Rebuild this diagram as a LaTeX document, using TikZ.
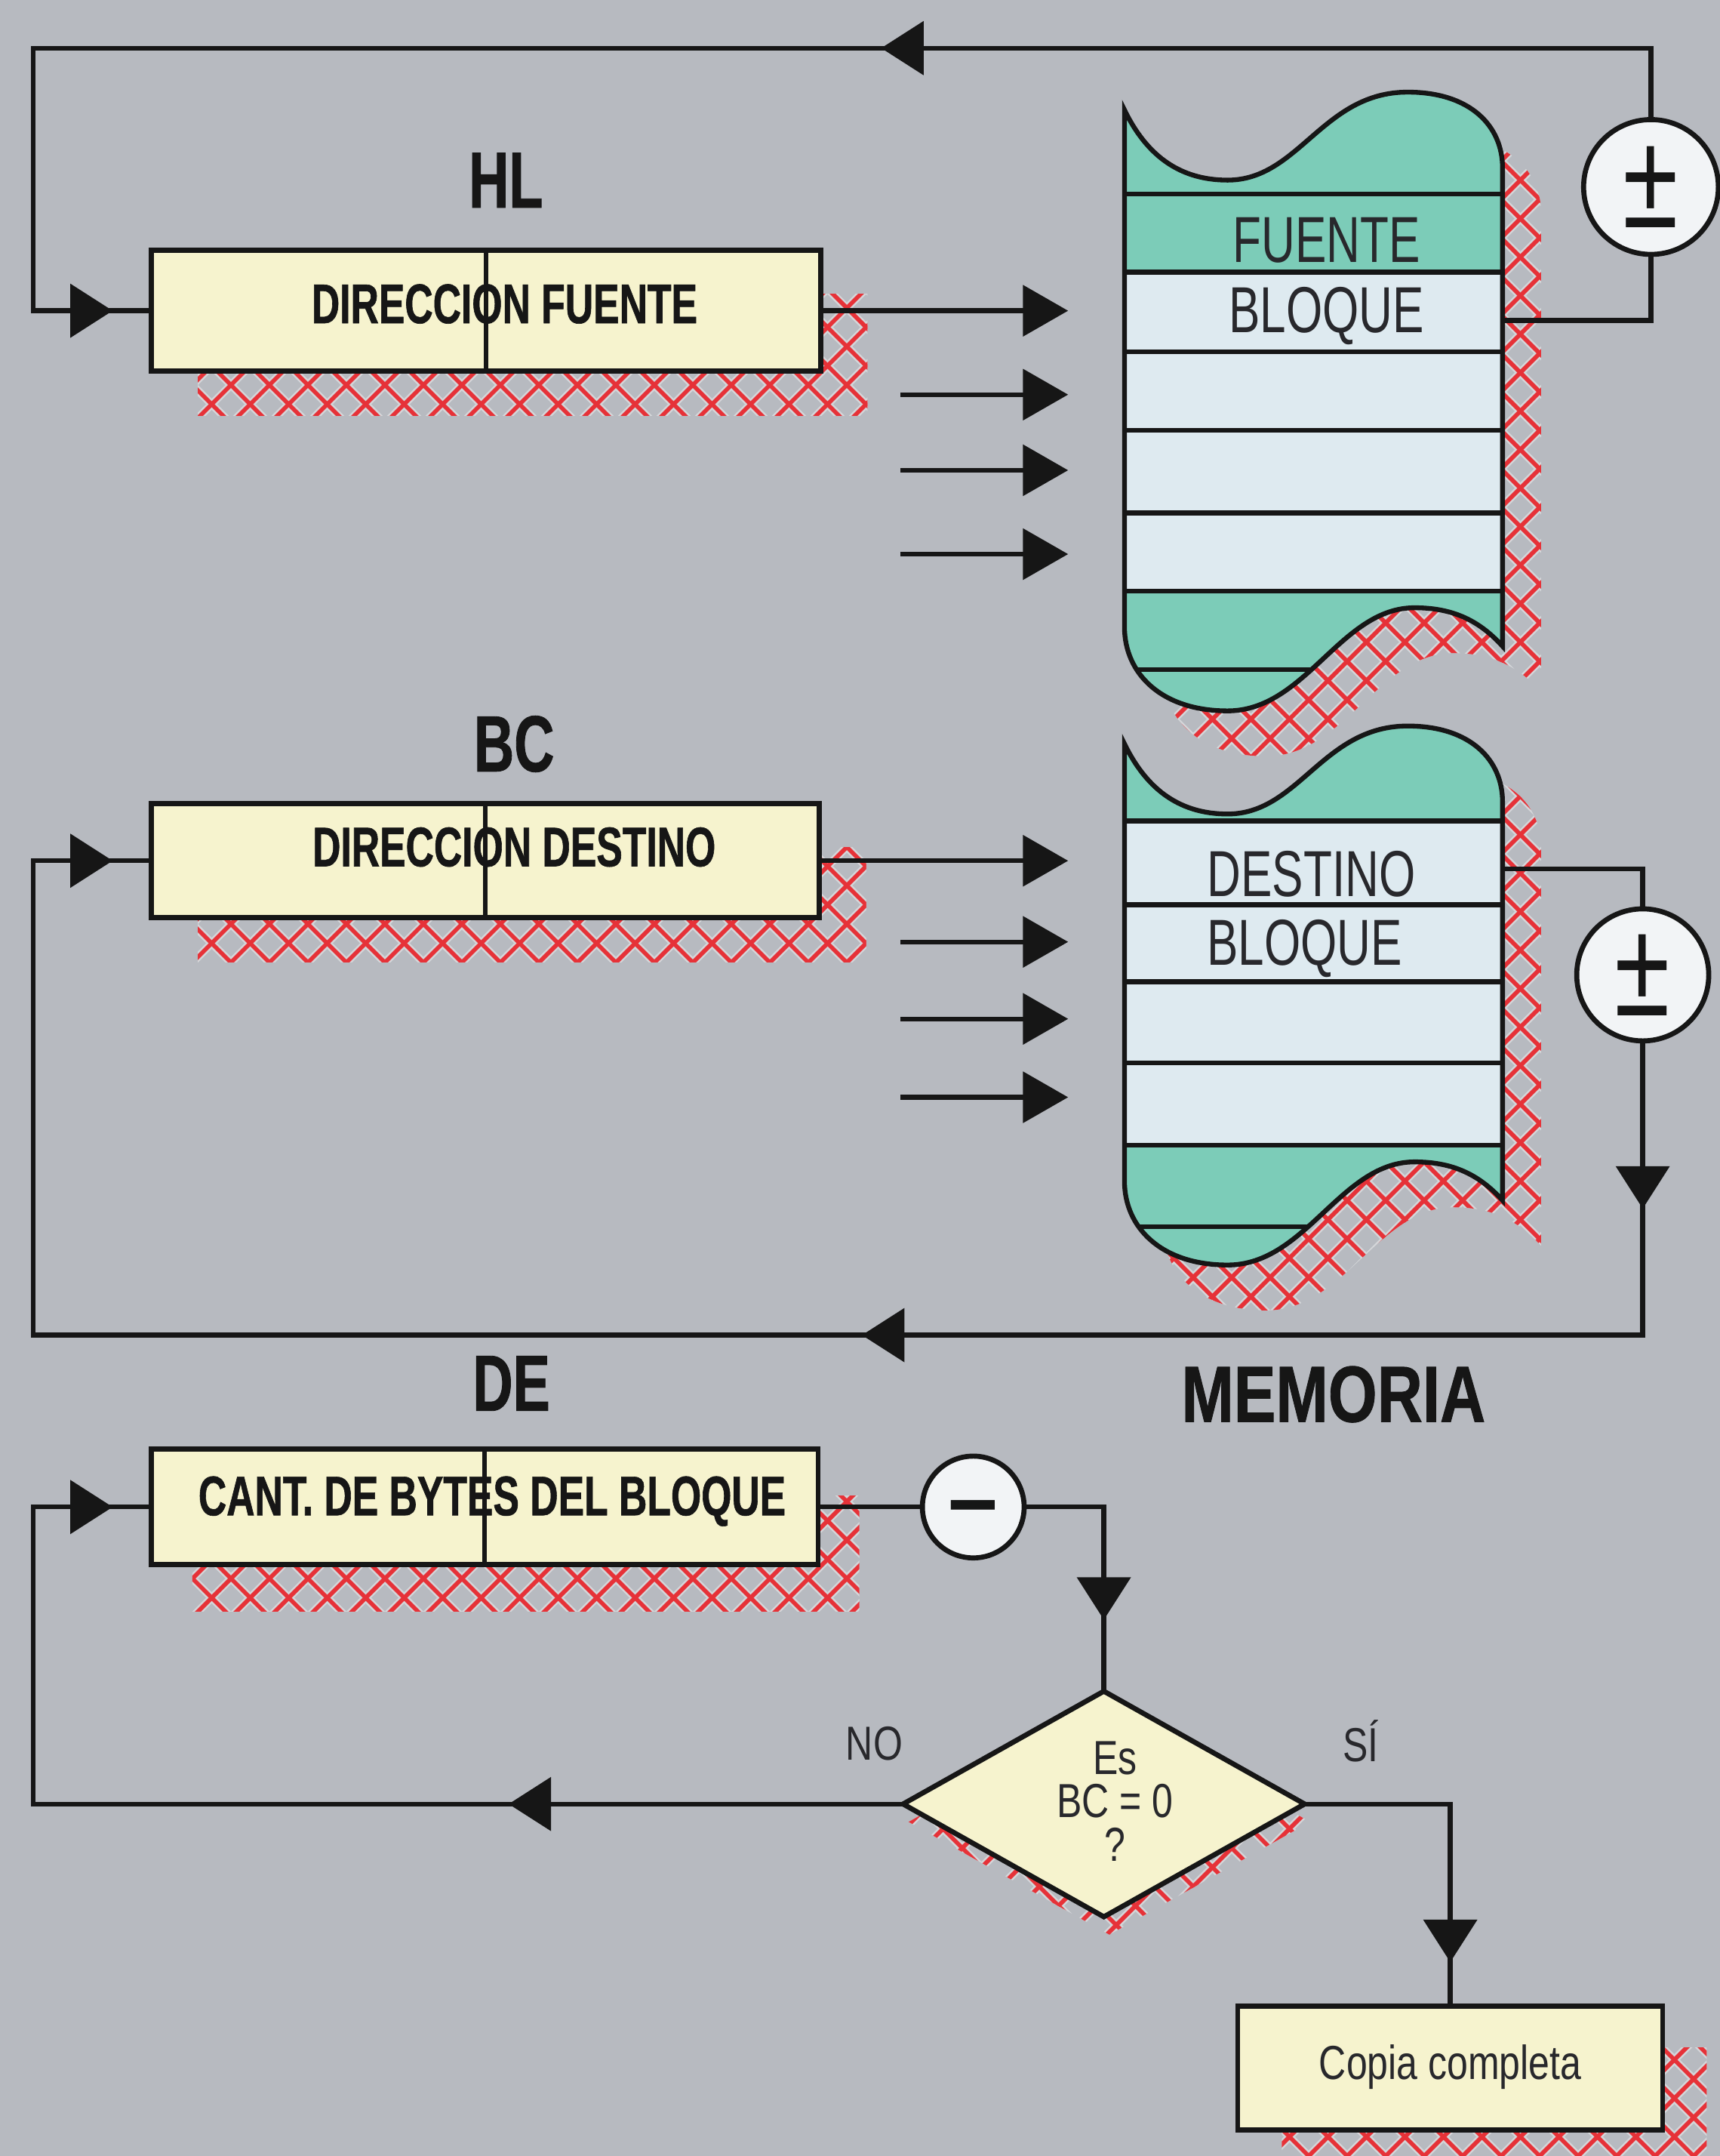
\documentclass[tikz,border=0pt]{standalone}
\usepackage{fontspec}
\usetikzlibrary{arrows.meta,shapes.geometric,calc}
\newfontfamily\condf[FakeStretch=0.72]{Liberation Sans}
\newfontfamily\condbf[FakeStretch=0.70,FakeBold=0.8]{Liberation Sans Bold}
\newfontfamily\memf[FakeStretch=0.79]{Liberation Sans}
\newfontfamily\membf[FakeStretch=0.79,FakeBold=0.8]{Liberation Sans Bold}
\newfontfamily\plainf{Liberation Sans}
\definecolor{bgcol}{RGB}{183,186,192}
\definecolor{boxfill}{RGB}{246,243,206}
\definecolor{memteal}{RGB}{124,204,184}
\definecolor{memlight}{RGB}{222,234,240}
\definecolor{hatchred}{RGB}{230,50,56}
\definecolor{ink}{RGB}{22,22,22}
\definecolor{ink2}{RGB}{40,40,44}
\definecolor{circfill}{RGB}{242,244,246}
\newcommand\ppx{0.518125pt}
\pgfdeclarelayer{bgl}
\pgfdeclarelayer{back}
\pgfsetlayers{bgl,back,main}
\newcommand\hatchit{%
  \foreach \c in {-1652,-1624,...,1428}{\draw[hatchhalo] (-250,{-250-(\c)}) -- (1500,{1500-(\c)});}
  \foreach \c in {-28,0,...,3052}{\draw[hatchhalo] (-250,{\c+250}) -- (1500,{\c-1500});}
  \foreach \c in {-1652,-1624,...,1428}{\draw[hatchline] (-250,{-250-(\c)}) -- (1500,{1500-(\c)});}
  \foreach \c in {-28,0,...,3052}{\draw[hatchline] (-250,{\c+250}) -- (1500,{\c-1500});}
}
\begin{document}
\begin{tikzpicture}[x=0.01821cm,y=-0.01821cm,
  conn/.style={draw=ink,line width=1.8pt},
  tipped/.style={conn,-{Triangle[length=16pt,width=20pt]}},
  memarr/.style={conn,-{Triangle[length=17pt,width=19pt]}},
  regbox/.style={draw=ink,line width=1.9pt,fill=boxfill,inner sep=0pt,outer sep=0pt},
  lbl/.style={font=\condbf\fontsize{30pt}{30pt}\selectfont,text=ink,anchor=base,inner sep=0pt},
  memlbl/.style={font=\membf\fontsize{30pt}{30pt}\selectfont,text=ink,anchor=base,inner sep=0pt},
  regtxt/.style={font=\condbf\fontsize{21pt}{21pt}\selectfont,text=ink,anchor=base,inner sep=0pt},
  memtxt/.style={font=\condf\fontsize{24.5pt}{24.5pt}\selectfont,text=ink2,anchor=base,inner sep=0pt},
  smalltxt/.style={font=\memf\fontsize{18pt}{16.3pt}\selectfont,text=ink2,inner sep=0pt},
  opcirc/.style={circle,draw=ink,line width=1.9pt,fill=circfill,inner sep=0pt,outer sep=0pt,text=ink},
  hatchhalo/.style={line width=3pt,draw=white!40!bgcol},
  hatchline/.style={line width=1.6pt,draw=hatchred},
  memline/.style={draw=ink,line width=1.8pt},
  mempath/.style 2 args={insert path={(818,#1) .. controls (835,#1+35) and (860,#1+51) .. (893,#1+51) .. controls (945,#1+51) and (962,#1-13) .. (1024,#1-13) .. controls (1070,#1-13) and (1093,#1+12) .. (1093,#1+42) -- (1093,#2) .. controls (1075,#2-20) and (1055,#2-28) .. (1029,#2-28) .. controls (975,#2-28) and (950,#2+47) .. (893,#2+47) .. controls (845,#2+47) and (818,#2+20) .. (818,#2-14) -- cycle}}
]
\useasboundingbox (0,0) rectangle (1251,1568);
\begin{pgfonlayer}{bgl}
  \fill[bgcol] (0,0) rectangle (1251,1568);
\end{pgfonlayer}

% ---------- memory blocks ----------
\begin{scope}[shift={(28,33)}]
  \clip[mempath={80}{470}];
  \hatchit
\end{scope}
\begin{scope}[shift={(28,33)}]
  \clip[mempath={541}{873}];
  \hatchit
\end{scope}
% memory 1
\fill[memteal, mempath={80}{470}];
\begin{scope}
  \clip[mempath={80}{470}];
  \fill[memlight] (800,198) rectangle (1110,430);
  \foreach \yy in {141,198,256,313,373,430,487}{\draw[memline] (800,\yy) -- (1110,\yy);}
\end{scope}
\draw[memline, mempath={80}{470}];
% memory 2
\fill[memteal, mempath={541}{873}];
\begin{scope}
  \clip[mempath={541}{873}];
  \fill[memlight] (800,597) rectangle (1110,833);
  \foreach \yy in {597,658,714,773,833,892}{\draw[memline] (800,\yy) -- (1110,\yy);}
\end{scope}
\draw[memline, mempath={541}{873}];

\node[memtxt] (tfuente) at (965,191) {FUENTE};
\node[memtxt] (tbloque1) at (965,242) {BLOQUE};
\node[memtxt] (tdestino) at (954,652) {DESTINO};
\node[memtxt] (tbloque2) at (949,702) {BLOQUE};
\node[memlbl] (lmem) at (970,1034) {MEMORIA};

\coordinate (m1out) at (1093,233);
\coordinate (m2out) at (1093,632);

% ---------- register boxes ----------
\node[regbox, minimum width=487*\ppx, minimum height=88*\ppx] (hl) at (353.5,226) {};
\node[regbox, minimum width=486*\ppx, minimum height=83*\ppx] (bc) at (353,626) {};
\node[regbox, minimum width=485*\ppx, minimum height=84*\ppx] (de) at (352.5,1096) {};
\node[regbox, minimum width=309*\ppx, minimum height=90*\ppx] (cp) at (1055,1504) {};
\node[diamond, draw=ink, line width=1.9pt, fill=boxfill, inner sep=0pt, outer sep=0pt,
      minimum width=292*\ppx, minimum height=164*\ppx] (dia) at (803,1312) {};

\node[regtxt] (thl) at (367,235) {DIRECCION FUENTE};
\node[regtxt] (tbc) at (374,630) {DIRECCION DESTINO};
\node[regtxt] (tde) at (358,1102) {CANT. DE BYTES DEL BLOQUE};
\draw[conn] (hl.north) -- (hl.south);
\draw[conn] (bc.north) -- (bc.south);
\draw[conn] (de.north) -- (de.south);

\node[lbl] (lhl) at (368,151) {HL};
\node[lbl] (lbc) at (374,561) {BC};
\node[lbl] (lde) at (372,1026) {DE};

\node[smalltxt, align=center] (dtxt) at (811,1310) {Es\\BC = 0\\?};
\node[smalltxt, anchor=base] (cpt) at (1055,1512) {Copia completa};
\node[smalltxt, anchor=base] (lno) at (636,1280) {NO};
\node[smalltxt, anchor=base] (lsi) at (990,1281) {SÍ};

% ---------- shadows of boxes ----------
\begin{pgfonlayer}{back}
  \begin{scope}
    \clip ([shift={(34,32)}]hl.north west) rectangle ([shift={(34,32)}]hl.south east);
    \hatchit
  \end{scope}
  \begin{scope}
    \clip ([shift={(34,32)}]bc.north west) rectangle ([shift={(34,32)}]bc.south east);
    \hatchit
  \end{scope}
  \begin{scope}
    \clip ([shift={(30,34)}]de.north west) rectangle ([shift={(30,34)}]de.south east);
    \hatchit
  \end{scope}
  \begin{scope}
    \clip ([shift={(32,30)}]cp.north west) rectangle ([shift={(32,30)}]cp.south east);
    \hatchit
  \end{scope}
  \begin{scope}
    \clip ([shift={(4,13)}]dia.north) -- ([shift={(4,13)}]dia.east) -- ([shift={(4,13)}]dia.south) -- ([shift={(4,13)}]dia.west) -- cycle;
    \hatchit
  \end{scope}
\end{pgfonlayer}

% ---------- operator circles ----------
\node[opcirc, minimum size=98*\ppx, font=\plainf\fontsize{38pt}{38pt}\selectfont] (pm1) at (1201,136) {\scalebox{1}[1.35]{±}};
\node[opcirc, minimum size=96*\ppx, font=\plainf\fontsize{38pt}{38pt}\selectfont] (pm2) at (1195,709) {\scalebox{1}[1.35]{±}};
\node[opcirc, minimum size=74*\ppx, font=\plainf\bfseries\fontsize{33pt}{33pt}\selectfont, text height=20.5pt, text depth=0pt] (mc) at (708,1096) {−};

% ---------- HL loop ----------
\coordinate (tl) at (24,35);
\draw[conn] (m1out) -| (pm1.south);
\draw[conn] (pm1.north) |- (tl) |- (hl.west);
\coordinate (t1) at (641,35);
\draw[tipped] (pm1.north |- tl) -- (t1);
\coordinate (t2) at (82,226);
\draw[tipped] (tl |- hl.west) -- (t2);

% HL arrows to memory
\coordinate (e11) at (777,226);
\draw[memarr] (hl.east) -- (e11);
\coordinate (s12) at (655,287); \coordinate (e12) at (777,287);
\coordinate (s13) at (655,342); \coordinate (e13) at (777,342);
\coordinate (s14) at (655,403); \coordinate (e14) at (777,403);
\draw[memarr] (s12) -- (e12);
\draw[memarr] (s13) -- (e13);
\draw[memarr] (s14) -- (e14);

% BC arrows to memory
\coordinate (e21) at (777,626);
\draw[memarr] (bc.east) -- (e21);
\coordinate (s22) at (655,685); \coordinate (e22) at (777,685);
\coordinate (s23) at (655,741); \coordinate (e23) at (777,741);
\coordinate (s24) at (655,798); \coordinate (e24) at (777,798);
\draw[memarr] (s22) -- (e22);
\draw[memarr] (s23) -- (e23);
\draw[memarr] (s24) -- (e24);

% ---------- BC loop ----------
\coordinate (br) at (1195,971);
\coordinate (bl) at (24,971);
\draw[conn] (m2out) -| (pm2.north);
\draw[conn] (pm2.south) -- (br) -- (bl) |- (bc.west);
\coordinate (t3) at (1195,879);
\draw[tipped] (pm2.south) -- (t3);
\coordinate (t4) at (627,971);
\draw[tipped] (br) -- (t4);
\coordinate (t5) at (82,626);
\draw[tipped] (bl |- bc.west) -- (t5);

% ---------- DE loop ----------
\draw[conn] (de.east) -- (mc.west);
\draw[conn] (mc.east) -| (dia.north);
\coordinate (t6) at (803,1178);
\draw[tipped] (mc.east -| dia.north) -- (t6);
\coordinate (nl) at (24,1312);
\draw[conn] (dia.west) -- (nl) |- (de.west);
\coordinate (t7) at (370,1312);
\draw[tipped] (dia.west) -- (t7);
\coordinate (t8) at (82,1096);
\draw[tipped] (nl |- de.west) -- (t8);
\draw[conn] (dia.east) -| (cp.north);
\coordinate (t9) at (1055,1427);
\draw[tipped] (dia.east -| cp.north) -- (t9);
\end{tikzpicture}
\end{document}
